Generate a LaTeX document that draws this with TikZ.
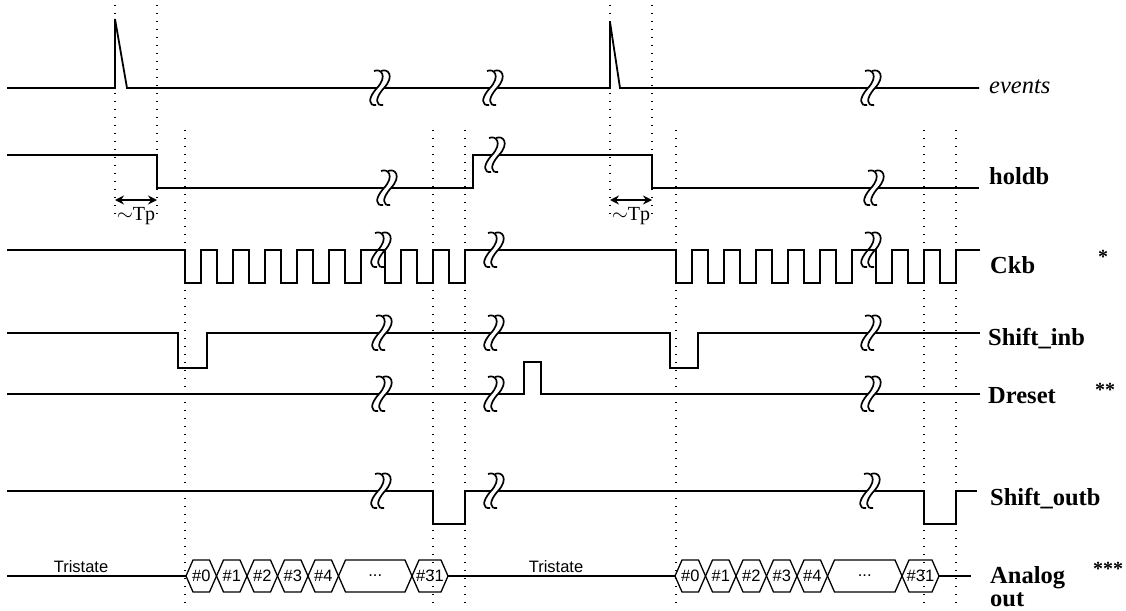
\documentclass[tikz,border=0pt]{standalone}
\usepackage{fontspec}
\setmainfont{Liberation Serif}
\newfontfamily\arialf{Liberation Sans}
\usetikzlibrary{arrows.meta}
\newcommand\mydts{...}
\tikzset{
  brkn/.pic={
    \draw[line width=1.7pt] (-3,-17) .. controls (4,-20) and (11,-12) .. (0,0) .. controls (-10,11) and (-8,18) .. (-1,17);
    \draw[line width=1.7pt] (4,-17) .. controls (11,-20) and (18,-12) .. (7,0) .. controls (-3,11) and (-1,18) .. (6,17);
  },
  brk/.pic={
    \fill[white] (-3,-17) .. controls (4,-20) and (11,-12) .. (0,0) .. controls (-10,11) and (-8,18) .. (-1,17) -- (6,17) .. controls (-1,18) and (-3,11) .. (7,0) .. controls (18,-12) and (11,-20) .. (4,-17) -- cycle;
    \pic {brkn};
  }
}
\begin{document}
\begin{tikzpicture}[x=1pt,y=-1pt,
  sig/.style={line width=1.8pt},
  dotl/.style={line width=1.1pt, dash pattern=on 1.1pt off 6.9pt},
  lab/.style={font=\fontsize{24.5}{27}\selectfont\bfseries, anchor=base west, inner sep=0pt},
  star/.style={font=\fontsize{20}{22}\selectfont\bfseries, anchor=base, inner sep=0pt},
  hexs/.style={line width=1.3pt, line join=miter},
  hexlab/.style={font=\arialf\fontsize{16.5}{18}\selectfont, inner sep=0pt},
  tparr/.style={line width=2.6pt, {Stealth[length=9pt,width=9pt]}-{Stealth[length=9pt,width=9pt]}},
  tplab/.style={font=\fontsize{20}{22}\selectfont, anchor=base, inner sep=0pt},
]
\useasboundingbox (0,0) rectangle (1126,610);

% dotted guide lines
\foreach \x in {115,157,610,652} \draw[dotl] (\x,5) -- (\x,218);
\foreach \x in {185,433,465,676,924,956} \draw[dotl] (\x,130) -- (\x,607);

% events
\draw[sig] (7,88) -- (115,88) -- (115,19) -- (127,88) -- (610,88) -- (610,22) -- (620,88) -- (979,88);
\pic at (377,88) {brk};
\pic at (490,88) {brk};
\pic at (868,88) {brk};
\node[lab, font=\fontsize{24.5}{27}\selectfont\itshape] (lev) at (989,93) {events};

% holdb
\draw[sig] (7,155) -- (157,155) -- (157,188) -- (473,188) -- (473,155) -- (652,155) -- (652,188) -- (979,188);
\pic at (384,188) {brk};
\pic at (492,155) {brk};
\pic at (871,188) {brk};
\node[lab] (lhold) at (989,184) {holdb};

% Tp arrows
\draw[tparr] (115,200) -- (157,200);
\node[tplab] (tp1) at (136,220) {$\sim$Tp};
\draw[tparr] (610,200) -- (652,200);
\node[tplab] (tp2) at (631,220) {$\sim$Tp};

% Ckb
\draw[sig] (7,250)
  \foreach \a in {185,217,249,281,313,345,385,417,449,676,708,740,772,804,836,876,908,940}
  { -- (\a,250) -- (\a,283) -- (\a+16,283) -- (\a+16,250) } -- (980,250);
\pic at (378,250) {brkn};
\pic at (491,250) {brk};
\pic at (868,250) {brkn};
\node[lab] (lckb) at (990,273) {Ckb};
\node[star] (s1) at (1103,263) {*};

% Shift_inb
\draw[sig] (7,333) -- (178,333) -- (178,368) -- (207,368) -- (207,333) -- (670,333) -- (670,368) -- (698,368) -- (698,333) -- (980,333);
\pic at (379,333) {brk};
\pic at (491,333) {brk};
\pic at (868,333) {brk};
\node[lab] (lsin) at (988,345) {Shift\_inb};

% Dreset
\draw[sig] (7,394) -- (524,394) -- (524,362) -- (541,362) -- (541,394) -- (980,394);
\pic at (379,394) {brk};
\pic at (491,394) {brk};
\pic at (868,394) {brk};
\node[lab] (ldr) at (988,403) {Dreset};
\node[star] (s2) at (1105,396) {**};

% Shift_outb
\draw[sig] (7,491) -- (433,491) -- (433,524) -- (465,524) -- (465,491) -- (924,491) -- (924,524) -- (956,524) -- (956,491) -- (977,491);
\pic at (378,491) {brk};
\pic at (491,491) {brk};
\pic at (867,491) {brk};
\node[lab] (lsout) at (990,505) {Shift\_outb};

% Analog out
\draw[hexs] (7,576) -- (186,576);
\draw[hexs] (448,576) -- (675,576);
\draw[hexs] (939,576) -- (971,576);
\foreach \a/\b/\t in {186/216.5/\#0, 216.5/247/\#1, 247/277.5/\#2, 277.5/308/\#3, 308/338.5/\#4, 338.5/412/\mydts, 412/448/\#31,
  675/705.5/\#0, 705.5/736/\#1, 736/766.5/\#2, 766.5/797/\#3, 797/827.5/\#4, 827.5/902/\mydts, 902/939/\#31}
{
  \draw[hexs] (\a,576) -- (\a+7,560) -- (\b-7,560) -- (\b,576) -- (\b-7,592) -- (\a+7,592) -- cycle;
  \node[hexlab] at ({(\a+\b)/2},576) {\t};
}
\node[hexlab, anchor=base] (tri1) at (81,572) {Tristate};
\node[hexlab, anchor=base] (tri2) at (556,572) {Tristate};
\node[lab] (lan) at (990,583) {Analog};
\node[lab] (lout) at (990,606) {out};
\node[star] (s3) at (1108,575) {***};
\end{tikzpicture}
\end{document}
